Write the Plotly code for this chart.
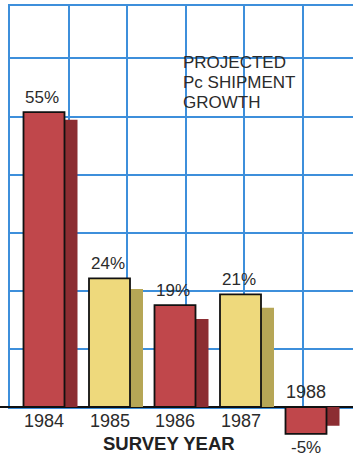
import plotly.graph_objects as go

years = ["1984", "1985", "1986", "1987", "1988"]
growth = [55, 24, 19, 21, -5]
shadow_vals = [53.6, 22, 16.4, 18.5, -3.5]
labels = ["55%", "24%", "19%", "21%", "-5%"]
bar_colors = ["#c0474b", "#eed97c", "#c0474b", "#eed97c", "#c0474b"]
shadow_colors = ["#8c2d32", "#b6a656", "#8c2d32", "#b6a656", "#8c2d32"]
title_lines = ["PROJECTED", "Pc SHIPMENT", "GROWTH"]
x_title = "SURVEY YEAR"

W, H = 353, 460
px_per_cat = 65.5
first_center = 44
bar_w = 41 / px_per_cat
shadow_dx = 13 / px_per_cat
px_per_pct = 5.36
base_px = 407

BLUE = "#3d8fdb"
TXT = "#2b2b2b"
FONT = "Liberation Sans"

fig = go.Figure()

# grid subplot (xy)
fig.add_trace(go.Scatter(x=[None], y=[None], xaxis="x", yaxis="y",
                         showlegend=False, hoverinfo="skip"))

# shadows then bars (x2y2)
fig.add_trace(go.Bar(x=years, y=shadow_vals, xaxis="x2", yaxis="y2",
                     width=bar_w, offset=-bar_w / 2 + shadow_dx,
                     marker=dict(color=shadow_colors, line=dict(width=0)),
                     showlegend=False, hoverinfo="skip"))
fig.add_trace(go.Bar(x=years, y=growth, xaxis="x2", yaxis="y2",
                     width=bar_w, offset=-bar_w / 2,
                     marker=dict(color=bar_colors, line=dict(color="#111111", width=1.8)),
                     showlegend=False, hoverinfo="skip"))

annotations = []
for i, (yr, v, lab) in enumerate(zip(years, growth, labels)):
    if v >= 0:
        annotations.append(dict(x=i, y=v, xref="x2", yref="y2", text=lab, showarrow=False,
                                yshift=15, xshift=-2, font=dict(family=FONT, size=17, color=TXT)))
        annotations.append(dict(x=i, y=0, xref="x2", yref="y2", text=yr, showarrow=False,
                                yshift=-14, font=dict(family=FONT, size=18, color=TXT)))
    else:
        annotations.append(dict(x=i, y=v, xref="x2", yref="y2", text=lab, showarrow=False,
                                yshift=-14, font=dict(family=FONT, size=17, color=TXT)))
        annotations.append(dict(x=i, y=0, xref="x2", yref="y2", text=yr, showarrow=False,
                                yshift=15, font=dict(family=FONT, size=18, color=TXT)))

annotations.append(dict(x=169 / W, y=1 - 443 / H, xref="paper", yref="paper", text="<b>" + x_title + "</b>",
                        xanchor="center", yanchor="middle",
                        showarrow=False, font=dict(family=FONT, size=18.5, color="#222222")))
for j, line in enumerate(title_lines):
    annotations.append(dict(x=181 / W, y=1 - (63 + 19.5 * j) / H, xref="paper", yref="paper",
                            xanchor="left", yanchor="middle", text=line, showarrow=False,
                            font=dict(family=FONT, size=17, color=TXT)))

fig.update_layout(
    width=W, height=H,
    margin=dict(l=0, r=0, t=0, b=0),
    paper_bgcolor="white", plot_bgcolor="rgba(0,0,0,0)",
    barmode="overlay",
    showlegend=False,
    annotations=annotations,
    xaxis=dict(domain=[10 / W, 1], range=[0, 343 / 58.6], dtick=1, tick0=0,
               showgrid=True, gridcolor=BLUE, gridwidth=2, showticklabels=False, ticks="",
               zeroline=False, showline=True, linecolor=BLUE, linewidth=2, mirror=True,
               anchor="y", fixedrange=True),
    yaxis=dict(domain=[1 - base_px / H, 1 - 6 / H], range=[0, (base_px - 6) / 58.1], dtick=1, tick0=0,
               showgrid=True, gridcolor=BLUE, gridwidth=2, showticklabels=False, ticks="",
               zeroline=False, showline=True, linecolor=BLUE, linewidth=2,
               anchor="x", fixedrange=True),
    xaxis2=dict(domain=[0, 1], type="category",
                range=[-first_center / px_per_cat, (W - first_center) / px_per_cat],
                showgrid=False, showticklabels=False, ticks="", zeroline=False, showline=False,
                anchor="y2", fixedrange=True),
    yaxis2=dict(domain=[0, 1], range=[-(H - base_px) / px_per_pct, base_px / px_per_pct],
                showgrid=False, showticklabels=False, ticks="", zeroline=True,
                zerolinecolor="#111111", zerolinewidth=2, showline=False,
                anchor="x2", fixedrange=True),
)

fig.write_html("out.html", config={"displayModeBar": False},
               post_script="document.body.style.margin='0';")
